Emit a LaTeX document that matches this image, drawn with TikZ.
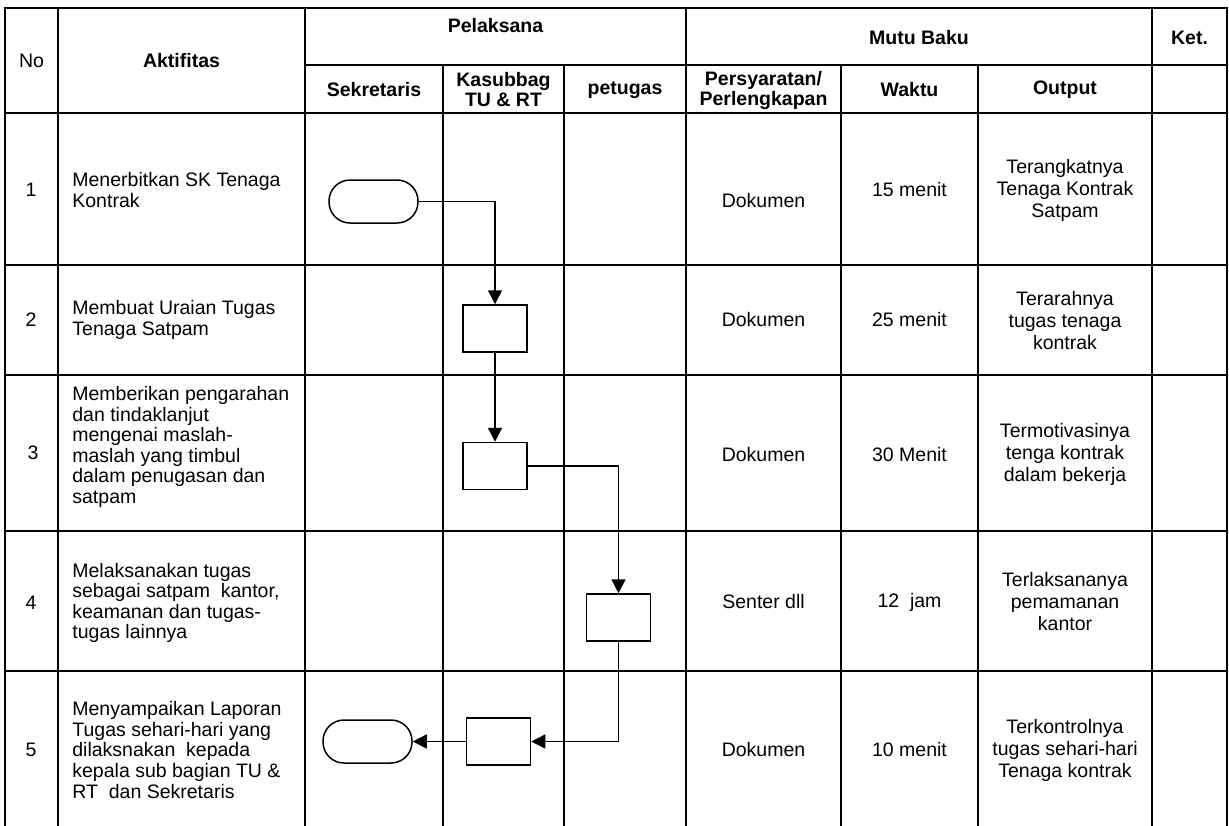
\documentclass[tikz,border=0pt]{standalone}
\usepackage{fontspec}
\setmainfont{Liberation Sans}
\usetikzlibrary{positioning}
\usetikzlibrary{arrows.meta}
\tikzset{
  tabline/.style={line width=1pt, line cap=rect},
  txt/.style={font=\fontsize{9.75}{11}\selectfont, align=center, inner sep=0pt},
  hd/.style={txt, font=\fontsize{9.75}{10}\selectfont\bfseries},
  act/.style={txt, align=left, anchor=west, font=\fontsize{9.75}{10.3}\selectfont},
  proc/.style={draw, line width=0.75pt, minimum width=32pt, minimum height=23.5pt, inner sep=0pt},
  term/.style={draw, line width=0.75pt, rounded corners=10.5pt, minimum width=44.5pt, minimum height=21.5pt, inner sep=0pt},
  flow/.style={line width=0.75pt, -{Triangle[length=7pt,width=7pt]}}
}

\begin{document}
\begin{tikzpicture}[x=0.5pt,y=-0.5pt]
	\useasboundingbox (0,0) rectangle (1229,825);
	\foreach \x in {5,58,305,686,1152,1227} \draw[tabline] (\x,8) -- (\x,825);
	\foreach \x in {443,564,841,978} \draw[tabline] (\x,65) -- (\x,825);
	\foreach \y in {8,113,265,375,531,671} \draw[tabline] (5,\y) -- (1227,\y);
	\draw[tabline] (305,65) -- (1227,65);
	\node[txt] at (31.5,61) (NO) {No};
	\node[hd] at (181.5,61) (AKT) {Aktifitas};
	\node[hd] at (495.5,26) (PEL) {Pelaksana};
	\node[hd] at (919,38) (MB) {Mutu Baku};
	\node[hd] at (1189.5,38) (KET) {Ket.};
	\node[hd] at (374,90) (SEK) {Sekretaris};
	\node[hd] at (503.5,90) (KAS) {Kasubbag\\TU \& RT};
	\node[hd] at (625,90) (PET) {petugas};
	\node[hd] at (763.5,90) (PRS) {Persyaratan/\\Perlengkapan};
	\node[hd] at (909.5,90) (WKT) {Waktu};
	\node[hd] at (1065,90) (OUT) {Output};
	\node[txt] at (31,190) (N1) {1};
	\node[txt] at (31,320) (N2) {2};
	\node[txt] at (33,453) (N3) {3};
	\node[txt] at (31,603) (N4) {4};
	\node[txt] at (31,750) (N5) {5};
	\node[act] at (72,190) (A1) {Menerbitkan SK Tenaga\\Kontrak};
	\node[act] at (72,320) (A2) {Membuat Uraian Tugas\\Tenaga Satpam};
	\node[act] at (72,447) (A3) {Memberikan pengarahan\\dan tindaklanjut\\mengenai maslah-\\maslah yang timbul\\dalam penugasan dan\\satpam};
	\node[act] at (72,603) (A4) {Melaksanakan tugas\\sebagai satpam~ kantor,\\keamanan dan tugas-\\tugas lainnya};
	\node[act] at (72,750) (A5) {Menyampaikan Laporan\\Tugas sehari-hari yang\\dilaksnakan~ kepada\\kepala sub bagian TU \&\\RT~ dan Sekretaris};
	\node[txt] at (763.5,201) (P1) {Dokumen};
	\node[txt] at (763.5,320) (P2) {Dokumen};
	\node[txt] at (763.5,455) (P3) {Dokumen};
	\node[txt] at (763.5,602) (P4) {Senter dll};
	\node[txt] at (763.5,750) (P5) {Dokumen};
	\node[txt] at (909.5,190) (W1) {15 menit};
	\node[txt] at (909.5,320) (W2) {25 menit};
	\node[txt] at (909.5,455) (W3) {30 Menit};
	\node[txt] at (909.5,602) (W4) {12~ jam};
	\node[txt] at (909.5,750) (W5) {10 menit};
	\node[txt] at (1065,190) (O1) {Terangkatnya\\Tenaga Kontrak\\Satpam};
	\node[txt] at (1065,321) (O2) {Terarahnya\\tugas tenaga\\kontrak};
	\node[txt] at (1065,454) (O3) {Termotivasinya\\tenga kontrak\\dalam bekerja};
	\node[txt] at (1065,602) (O4) {Terlaksananya\\pemamanan\\kantor};
	\node[txt] at (1065,750) (O5) {Terkontrolnya\\tugas sehari-hari\\Tenaga kontrak};
	\node[term] at (373.5,201.5) (START) {};
	\node[proc] at (495,328.5) (B1) {};
	\node[proc, below=44.5pt of B1] (B2) {};
	\node[proc] at (618.5,617.5) (B3) {};
	\node[proc] at (498.5,741.5) (B4) {};
	\node[term, left=26.5pt of B4] (END) {};
	\draw[flow] (START.east) -| (B1.north);
	\draw[flow] (B1.south) -- (B2.north);
	\draw[flow] (B2.east) -| (B3.north);
	\draw[flow] (B3.south) |- (B4.east);
	\draw[flow] (B4.west) -- (END.east);
\end{tikzpicture}
\end{document}
